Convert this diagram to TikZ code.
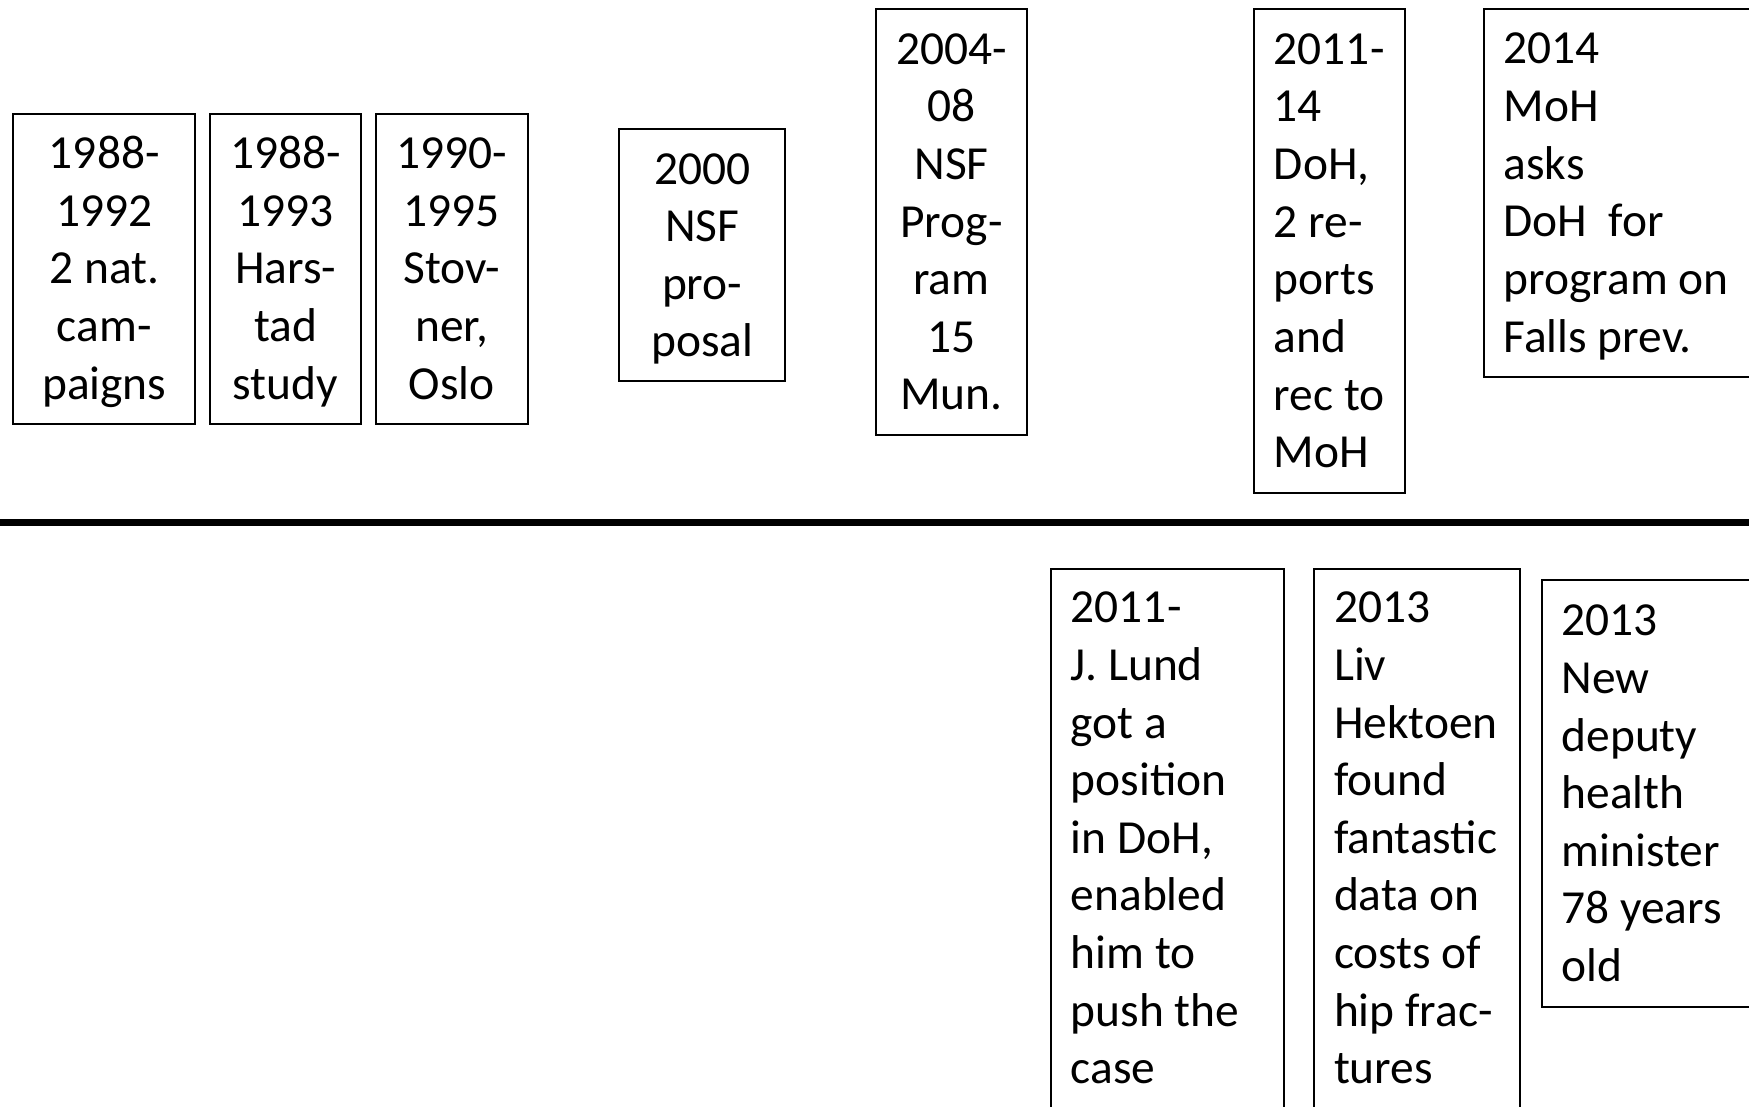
\documentclass[tikz,border=0pt]{standalone}
\usepackage{fontspec}
\setmainfont{Carlito}

\newcommand{\evstrut}{\rule[-7pt]{0pt}{29.4pt}}

\tikzstyle{event} = [draw, line width=1pt, inner ysep=0pt, font=\fontsize{24.2}{29.4}\selectfont,
                     execute at begin node=\evstrut, execute at end node=\evstrut]
\tikzstyle{midtext} = [event, align=flush center, inner xsep=0.2cm]
\tikzstyle{lefttext} = [event, align=flush left, inner xsep=0.36cm]
\tikzstyle{timeline} = [line width=3.6pt]

\begin{document}
\begin{tikzpicture}
      \useasboundingbox (0,0) rectangle (31.36,-19.84);
      \clip (0,0) rectangle (31.36,-19.84);

      % above the line
      \node[midtext, text width=2.86cm, minimum width=3.26cm, minimum height=5.56cm] (camp) at (1.87,-4.82) {1988-\\1992\\2 nat.\\cam-\\paigns};
      \node[midtext, text width=2.32cm, minimum width=2.72cm, minimum height=5.56cm] (harstad) at (5.12,-4.82) {1988-\\1993\\Hars-\\tad\\study};
      \node[midtext, text width=2.32cm, minimum width=2.72cm, minimum height=5.56cm] (stovner) at (8.10,-4.82) {1990-\\1995\\Stov-\\ner,\\Oslo};
      \node[midtext, text width=2.58cm, minimum width=2.98cm, minimum height=4.52cm] (nsfprop) at (12.59,-4.58) {2000\\NSF\\pro-\\posal};
      \node[midtext, text width=2.32cm, minimum width=2.72cm, minimum height=7.64cm] (nsfprog) at (17.06,-3.98) {2004-\\08\\NSF\\Prog-\\ram\\15\\Mun.};
      \node[lefttext, text width=2.00cm, minimum width=2.72cm, minimum height=8.68cm] (dohrep) at (23.84,-4.50) {2011-\\14\\DoH,\\2~re-\\ports\\and\\rec~to\\MoH};
      \node[lefttext, text width=5.28cm, minimum width=6.00cm, minimum height=6.60cm] (mohask) at (29.60,-3.46) {2014\\MoH\\asks\\DoH\ \ for\\program on\\Falls prev.};

      \coordinate (tstart) at (0,-9.37);
      \coordinate (tend) at (31.36,-9.37);
      \draw[timeline] (tstart) -- (tend);

      % below the line
      \node[lefttext, text width=3.46cm, minimum width=4.18cm, minimum height=9.66cm] (lund) at (20.93,-15.03) {2011-\\J. Lund\\got a\\position\\in DoH,\\enabled\\him to\\push the\\case};
      \node[lefttext, text width=2.98cm, minimum width=3.70cm, minimum height=9.66cm] (hektoen) at (25.41,-15.03) {2013\\Liv\\Hektoen\\found\\fantastic\\data on\\costs of\\hip frac-\\tures};
      \node[lefttext, text width=5.28cm, minimum width=6.00cm, minimum height=7.66cm] (deputy) at (30.64,-14.23) {2013\\New\\deputy\\health\\minister\\78 years\\old};
\end{tikzpicture}
\end{document}
